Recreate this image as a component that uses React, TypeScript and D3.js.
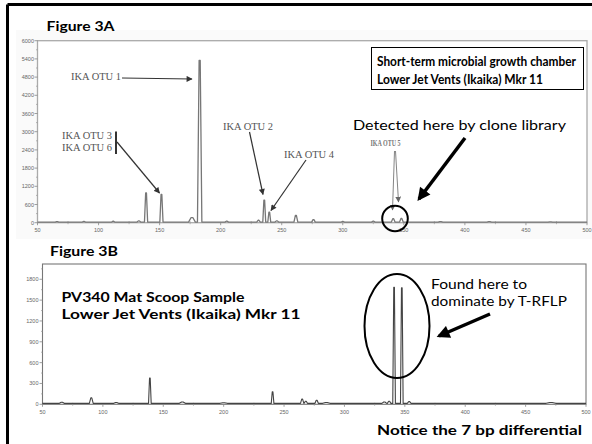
import React from "react";
import * as d3 from "d3";

// ---- Data: Figure 3A (T-RFLP electropherogram, growth chamber) ----
const peaksABp = [66, 88, 112, 133, 138.9, 151.5, 176.5, 182.8, 205, 231, 235.7, 239.8, 246, 261.6, 276, 300, 325, 341.3, 348, 380, 420, 470];
const peaksAHeight = [15, 20, 30, 40, 960, 910, 150, 5330, 30, 60, 725, 330, 40, 220, 80, 20, 30, 110, 120, 15, 15, 10];
const peaksAWidth = [1.5, 1.5, 1.2, 1.5, 1.3, 1.3, 2.8, 1.8, 1.5, 1.5, 1.2, 1.2, 1.5, 1.6, 1.5, 1.5, 1.5, 1.5, 1.5, 2, 2, 2];
const baselineA = 20;

// ---- Data: Figure 3B (PV340 mat scoop sample) ----
const peaksBBp = [66, 90.4, 111, 138.9, 165.8, 200, 240.5, 265, 268, 277, 285, 333, 337, 341.1, 347.5, 353.6, 471];
const peaksBHeight = [15, 80, 12, 365, 20, 8, 167, 60, 30, 45, 12, 20, 30, 1670, 1665, 25, 12];
const peaksBWidth = [2, 1.6, 2, 1.1, 2.5, 3, 1.1, 1.4, 1.4, 1.4, 3, 2, 1.5, 1.1, 1.1, 1.6, 4];
const baselineB = 14;

const xTicks = [50, 100, 150, 200, 250, 300, 350, 400, 450, 500];
const xMinorTicks = [75, 125, 175, 225, 275, 325, 375, 425, 475];
const yTicksA = [0, 600, 1200, 1800, 2400, 3000, 3600, 4200, 4800, 5400, 6000];
const yTicksB = [0, 300, 600, 900, 1200, 1500, 1800];

const SERIF = "'Liberation Serif', 'DejaVu Serif', serif";
const SANS = "'Liberation Sans', Arial, sans-serif";
const COMIC = "Lato, 'Noto Sans', sans-serif";

function tracePoints(bp: number[], h: number[], w: number[], base: number) {
  const idx = d3.range(bp.length).sort((a, b) => bp[a] - bp[b]);
  const pts: [number, number][] = [[50, base]];
  idx.forEach((i) => {
    pts.push([bp[i] - w[i], base]);
    pts.push([bp[i] - w[i] * 0.25, base + h[i]]);
    pts.push([bp[i] + w[i] * 0.25, base + h[i]]);
    pts.push([bp[i] + w[i], base]);
  });
  pts.push([500, base]);
  return pts;
}

export default function App() {
  const xA = d3.scaleLinear().domain([50, 500]).range([37.5, 587]);
  const yA = d3.scaleLinear().domain([0, 6000]).range([222.7, 40.7]);
  const xB = d3.scaleLinear().domain([50, 500]).range([42.5, 586]);
  const yB = d3.scaleLinear().domain([0, 2020]).range([404.3, 264]);

  const lineA = d3.line<[number, number]>().x((d) => xA(d[0])).y((d) => yA(d[1]));
  const lineB = d3.line<[number, number]>().x((d) => xB(d[0])).y((d) => yB(d[1]));
  const dA = lineA(tracePoints(peaksABp, peaksAHeight, peaksAWidth, baselineA)) || "";
  const dB = lineB(tracePoints(peaksBBp, peaksBHeight, peaksBWidth, baselineB)) || "";

  const yMinorA = d3.range(300, 6000, 600);
  const yMinorB = d3.range(150, 2000, 300);

  return (
    <svg
      width={592}
      height={444}
      style={{ position: "absolute", left: 0, top: 0, background: "#fff" }}
    >
      <defs>
        <marker id="ah" viewBox="0 0 10 10" refX="9" refY="5" markerWidth="7" markerHeight="6" orient="auto" markerUnits="userSpaceOnUse">
          <path d="M0,0 L10,5 L0,10 z" fill="#333" />
        </marker>
        <marker id="ahg" viewBox="0 0 10 10" refX="9" refY="5" markerWidth="6" markerHeight="6" orient="auto" markerUnits="userSpaceOnUse">
          <path d="M0,0 L10,5 L0,10 z" fill="#666" />
        </marker>
        <marker id="ahb" viewBox="0 0 10 10" refX="8" refY="5" markerWidth="14" markerHeight="13" orient="auto" markerUnits="userSpaceOnUse">
          <path d="M0,0 L10,5 L0,10 z" fill="#000" />
        </marker>
      </defs>

      {/* outer frame */}
      <rect x={0} y={0} width={592} height={444} fill="#fff" />
      <rect x={16} y={30} width={576} height={209} fill="#fafafa" />
      <line x1={7.5} y1={4.5} x2={592} y2={4.5} stroke="#000" strokeWidth={3} />
      <line x1={7.5} y1={4.5} x2={7.5} y2={444} stroke="#000" strokeWidth={3} />

      {/* ---------- Panel A ---------- */}
      <text x={46.5} y={31} fontFamily={COMIC} fontWeight="bold" fontSize={13.5} textLength={68} lengthAdjust="spacingAndGlyphs">Figure 3A</text>
      <rect x={xA(50)} y={yA(6000)} width={xA(500) - xA(50)} height={yA(0) - yA(6000)} fill="#fff" stroke="#aaa" strokeWidth={1.3} />
      {yTicksA.map((t) => (
        <g key={"ya" + t}>
          <line x1={xA(50) - 3} x2={xA(50)} y1={yA(t)} y2={yA(t)} stroke="#888" strokeWidth={0.8} />
          <text x={xA(50) - 3.5} y={yA(t) + 2} textAnchor="end" fontFamily={SANS} fontSize={5.5} fill="#666">{t}</text>
        </g>
      ))}
      {yMinorA.map((t) => (
        <line key={"yma" + t} x1={xA(50) - 1.5} x2={xA(50)} y1={yA(t)} y2={yA(t)} stroke="#999" strokeWidth={0.7} />
      ))}
      {xTicks.map((t) => (
        <g key={"xa" + t}>
          <line x1={xA(t)} x2={xA(t)} y1={yA(0)} y2={yA(0) + 2.5} stroke="#888" strokeWidth={0.8} />
          <text x={xA(t)} y={yA(0) + 9} textAnchor="middle" fontFamily={SANS} fontSize={5.5} fill="#666">{t}</text>
        </g>
      ))}
      {xMinorTicks.map((t) => (
        <line key={"xma" + t} x1={xA(t)} x2={xA(t)} y1={yA(0) - 1.5} y2={yA(0) + 1.5} stroke="#999" strokeWidth={0.7} />
      ))}
      <path d={dA} fill="none" stroke="#777" strokeWidth={1.3} strokeLinejoin="round" />

      {/* box label */}
      <rect x={371.5} y={47.5} width={212} height={42} fill="#fff" stroke="#000" strokeWidth={1} />
      <text x={377} y={65.5} fontFamily={COMIC} fontWeight="bold" fontSize={12.5} textLength={199} lengthAdjust="spacingAndGlyphs">Short-term microbial growth chamber</text>
      <text x={377} y={84} fontFamily={COMIC} fontWeight="bold" fontSize={12.5} textLength={166} lengthAdjust="spacingAndGlyphs">Lower Jet Vents (Ikaika) Mkr 11</text>

      {/* OTU annotations */}
      <text x={71} y={80} fontFamily={SERIF} fontSize={9.5} fill="#555" textLength={50} lengthAdjust="spacingAndGlyphs">IKA OTU 1</text>
      <line x1={122} y1={78} x2={192} y2={79} stroke="#333" strokeWidth={1.2} markerEnd="url(#ah)" />

      <text x={62} y={138.5} fontFamily={SERIF} fontSize={9.5} fill="#555" textLength={50} lengthAdjust="spacingAndGlyphs">IKA OTU 3</text>
      <text x={62} y={151} fontFamily={SERIF} fontSize={9.5} fill="#555" textLength={50} lengthAdjust="spacingAndGlyphs">IKA OTU 6</text>
      <line x1={116} y1={131.5} x2={116} y2={154} stroke="#000" strokeWidth={1.6} />
      <line x1={117} y1={142} x2={159.5} y2={193} stroke="#333" strokeWidth={1.2} markerEnd="url(#ah)" />

      <text x={223} y={129.5} fontFamily={SERIF} fontSize={9.5} fill="#555" textLength={50} lengthAdjust="spacingAndGlyphs">IKA OTU 2</text>
      <line x1={249.5} y1={132} x2={263} y2={194.5} stroke="#333" strokeWidth={1.2} markerEnd="url(#ah)" />

      <text x={284} y={158} fontFamily={SERIF} fontSize={9.5} fill="#555" textLength={50} lengthAdjust="spacingAndGlyphs">IKA OTU 4</text>
      <line x1={306} y1={160} x2={271} y2={210.5} stroke="#333" strokeWidth={1.2} markerEnd="url(#ah)" />

      <text x={370.5} y={146} fontFamily={SERIF} fontSize={8} fill="#777" fontWeight="bold" textLength={30} lengthAdjust="spacingAndGlyphs">IKA OTU 5</text>
      <line x1={394.5} y1={151} x2={392.5} y2={210} stroke="#777" strokeWidth={0.9} markerEnd="url(#ahg)" />
      <line x1={395.5} y1={151} x2={398.5} y2={202} stroke="#777" strokeWidth={0.9} markerEnd="url(#ahg)" />

      <circle cx={395} cy={218.5} r={12.8} fill="none" stroke="#000" strokeWidth={2} />

      <text x={353} y={129.5} fontFamily={COMIC} fontSize={13} fill="#000" textLength={213} lengthAdjust="spacingAndGlyphs">Detected here by clone library</text>
      <line x1={465} y1={138} x2={419} y2={199} stroke="#000" strokeWidth={3.5} markerEnd="url(#ahb)" />

      {/* ---------- Panel B ---------- */}
      <text x={50} y={256} fontFamily={COMIC} fontWeight="bold" fontSize={13.5} textLength={68} lengthAdjust="spacingAndGlyphs">Figure 3B</text>
      <rect x={xB(50)} y={yB(2020)} width={xB(500) - xB(50)} height={yB(0) - yB(2020)} fill="#fff" stroke="#777" strokeWidth={1.1} />
      {yTicksB.map((t) => (
        <g key={"yb" + t}>
          <line x1={xB(50) - 3} x2={xB(50)} y1={yB(t)} y2={yB(t)} stroke="#888" strokeWidth={0.8} />
          <text x={xB(50) - 4} y={yB(t) + 2} textAnchor="end" fontFamily={SANS} fontSize={5.5} fill="#666">{t}</text>
        </g>
      ))}
      {yMinorB.map((t) => (
        <line key={"ymb" + t} x1={xB(50) - 1.5} x2={xB(50)} y1={yB(t)} y2={yB(t)} stroke="#999" strokeWidth={0.7} />
      ))}
      {xTicks.map((t) => (
        <g key={"xb" + t}>
          <line x1={xB(t)} x2={xB(t)} y1={yB(0)} y2={yB(0) + 2.5} stroke="#888" strokeWidth={0.8} />
          <text x={xB(t)} y={yB(0) + 10} textAnchor="middle" fontFamily={SANS} fontSize={5.5} fill="#666">{t}</text>
        </g>
      ))}
      {xMinorTicks.map((t) => (
        <line key={"xmb" + t} x1={xB(t)} x2={xB(t)} y1={yB(0) - 1.5} y2={yB(0) + 1.5} stroke="#999" strokeWidth={0.7} />
      ))}
      <path d={dB} fill="none" stroke="#444" strokeWidth={1.1} strokeLinejoin="round" />

      <text x={61.5} y={301.5} fontFamily={COMIC} fontWeight="bold" fontSize={13} textLength={183} lengthAdjust="spacingAndGlyphs">PV340 Mat Scoop Sample</text>
      <text x={61.5} y={319} fontFamily={COMIC} fontWeight="bold" fontSize={13} textLength={239} lengthAdjust="spacingAndGlyphs">Lower Jet Vents (Ikaika) Mkr 11</text>

      <ellipse cx={397} cy={326} rx={32.5} ry={52} fill="none" stroke="#000" strokeWidth={2} />

      <text x={431} y={288.5} fontFamily={COMIC} fontSize={13} textLength={96} lengthAdjust="spacingAndGlyphs">Found here to</text>
      <text x={431} y={306} fontFamily={COMIC} fontSize={13} textLength={136} lengthAdjust="spacingAndGlyphs">dominate by T-RFLP</text>
      <line x1={490} y1={314} x2={439} y2={336} stroke="#000" strokeWidth={3.5} markerEnd="url(#ahb)" />

      <text x={377} y={434.5} fontFamily={COMIC} fontWeight="bold" fontSize={13} textLength={205} lengthAdjust="spacingAndGlyphs">Notice the 7 bp differential</text>
    </svg>
  );
}
